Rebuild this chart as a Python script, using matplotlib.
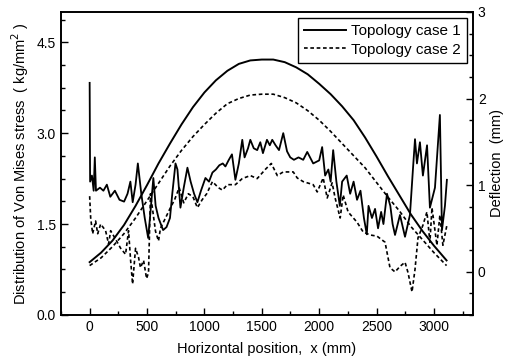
import matplotlib
matplotlib.use("Agg")
import matplotlib.pyplot as plt
from matplotlib.ticker import MultipleLocator, AutoMinorLocator

plt.rcParams['font.family'] = ['Liberation Sans', 'DejaVu Sans']
plt.rcParams['font.size'] = 10

# Von Mises stress, case 1 (solid)
x_s1 = [0, 4, 20, 35, 45, 55, 90, 120, 150, 180, 220, 260, 300, 330, 355, 375,
        400, 420, 450, 480, 510, 530, 555, 575, 600, 640, 670, 700, 720, 748,
        765, 791, 820, 852, 880, 910, 939, 970, 1009, 1040, 1070, 1100, 1130,
        1160, 1183, 1210, 1240, 1270, 1300, 1330, 1350, 1380, 1400, 1430, 1460,
        1487, 1510, 1545, 1570, 1591, 1620, 1650, 1687, 1720, 1748, 1780, 1820,
        1861, 1896, 1948, 2000, 2026, 2052, 2080, 2100, 2122, 2150, 2180, 2200,
        2240, 2270, 2300, 2330, 2360, 2390, 2415, 2430, 2460, 2487, 2513, 2540,
        2560, 2591, 2620, 2640, 2661, 2704, 2748, 2791, 2817, 2835, 2852, 2878,
        2904, 2940, 2965, 3009, 3052, 3070, 3096, 3113]
s1 = [3.83, 2.2, 2.3, 2.05, 2.6, 2.05, 2.1, 2.05, 2.15, 1.95, 2.05, 1.9, 1.87,
      2.0, 2.2, 1.86, 2.15, 2.5, 2.0, 1.6, 1.27, 1.7, 2.26, 1.8, 1.6, 1.4, 1.45,
      1.6, 2.0, 2.5, 2.4, 1.77, 2.1, 2.43, 2.2, 2.0, 1.86, 2.05, 2.26, 2.2, 2.35,
      2.4, 2.47, 2.5, 2.45, 2.55, 2.65, 2.23, 2.5, 2.89, 2.6, 2.75, 2.89, 2.75,
      2.72, 2.85, 2.67, 2.89, 2.8, 2.89, 2.8, 2.72, 3.0, 2.7, 2.6, 2.56, 2.6,
      2.56, 2.69, 2.5, 2.55, 2.77, 2.3, 2.4, 2.2, 2.72, 2.2, 1.8, 2.2, 2.3, 2.0,
      2.2, 1.9, 2.05, 1.6, 1.33, 1.8, 1.6, 1.75, 1.43, 1.7, 1.5, 2.0, 1.8, 1.5,
      1.32, 1.65, 1.29, 1.65, 2.4, 2.9, 2.5, 2.85, 2.3, 2.8, 1.77, 2.1, 3.3,
      1.4, 1.8, 2.23]

# Von Mises stress, case 2 (dashed)
x_s2 = [0, 9, 26, 52, 70, 96, 139, 165, 183, 226, 270, 313, 339, 357, 374, 400,
        426, 443, 470, 496, 513, 530, 574, 600, 617, 661, 704, 740, 780, 820,
        860, 900, 939, 980, 1020, 1070, 1122, 1157, 1200, 1270, 1330, 1400,
        1460, 1530, 1583, 1635, 1687, 1774, 1809, 1861, 1948, 1983, 2035, 2070,
        2113, 2139, 2183, 2209, 2252, 2330, 2383, 2443, 2504, 2574, 2617, 2661,
        2704, 2748, 2774, 2809, 2835, 2861, 2904, 2939, 2965, 2983, 3026, 3052,
        3078, 3113]
s2 = [1.96, 1.6, 1.34, 1.55, 1.34, 1.5, 1.39, 1.17, 1.39, 1.25, 1.1, 1.0, 1.39,
      0.9, 0.51, 1.1, 0.95, 0.78, 0.9, 0.6, 0.7, 2.0, 1.38, 1.22, 1.43, 1.6,
      1.77, 1.9, 2.1, 1.85, 2.0, 1.95, 1.77, 1.9, 2.0, 2.2, 2.1, 2.06, 2.15,
      2.15, 2.25, 2.3, 2.25, 2.4, 2.5, 2.3, 2.36, 2.36, 2.26, 2.2, 2.15, 2.03,
      2.26, 1.93, 2.18, 1.93, 1.6, 1.98, 1.7, 1.53, 1.37, 1.32, 1.3, 1.2, 0.78,
      0.71, 0.8, 0.87, 0.7, 0.38, 0.75, 1.27, 1.48, 1.7, 1.2, 1.77, 1.15, 1.65,
      1.15, 1.48]

# Deflection (right axis)
x_d = [0, 100, 200, 300, 400, 500, 600, 700, 800, 900, 1000, 1100, 1200, 1300,
       1400, 1500, 1600, 1700, 1800, 1900, 2000, 2100, 2200, 2300, 2400, 2500,
       2600, 2700, 2800, 2900, 3000, 3110]
d1 = [0.11, 0.22, 0.36, 0.54, 0.76, 1.0, 1.25, 1.48, 1.7, 1.9, 2.07, 2.21, 2.32,
      2.4, 2.44, 2.45, 2.45, 2.42, 2.36, 2.28, 2.17, 2.05, 1.91, 1.75, 1.55,
      1.33, 1.1, 0.88, 0.66, 0.47, 0.3, 0.13]
d2 = [0.07, 0.16, 0.29, 0.44, 0.62, 0.82, 1.02, 1.22, 1.4, 1.56, 1.7, 1.83, 1.94,
      2.0, 2.04, 2.05, 2.05, 2.01, 1.95, 1.86, 1.75, 1.62, 1.48, 1.34, 1.2,
      1.03, 0.86, 0.7, 0.52, 0.37, 0.22, 0.07]

fig = plt.figure(figsize=(5.08, 3.62), dpi=100)
ax = fig.add_axes([0.120, 0.130, 0.811, 0.837])
ax2 = ax.twinx()

dash = (0, (2.2, 1.6))
ax.plot(x_s1, s1, 'k-', lw=1.3)
ax.plot(x_s2, s2, color='k', ls=dash, lw=1.2)
l1, = ax2.plot(x_d, d1, 'k-', lw=1.4)
l2, = ax2.plot(x_d, d2, color='k', ls=dash, lw=1.2)

ax.set_xlim(-250, 3340)
ax.set_ylim(0, 5)
ax2.set_ylim(-0.5, 3)

ax.xaxis.set_major_locator(MultipleLocator(500))
ax.xaxis.set_minor_locator(AutoMinorLocator(2))
ax.yaxis.set_major_locator(MultipleLocator(1.5))
ax.yaxis.set_minor_locator(AutoMinorLocator(4))
ax.yaxis.set_major_formatter(plt.FormatStrFormatter('%.1f'))
ax2.yaxis.set_major_locator(MultipleLocator(1))
ax2.yaxis.set_minor_locator(AutoMinorLocator(4))

for a in (ax, ax2):
    a.tick_params(which='major', direction='in', length=5, width=1,
                  labelsize=10)
    a.tick_params(which='minor', direction='in', length=3, width=1)
    for sp in a.spines.values():
        sp.set_linewidth(1.2)

ax.set_xlabel('Horizontal position,  x (mm)', fontsize=10.5, labelpad=6)
ax.set_ylabel('Distribution of Von Mises stress  ( kg/mm$^2$ )', fontsize=10.5)
ax2.set_ylabel('Deflection  (mm)', fontsize=10.5, labelpad=3)

leg = ax2.legend([l1, l2], ['Topology case 1', 'Topology case 2'],
                 loc='upper right', fancybox=False, edgecolor='k',
                 framealpha=1, borderaxespad=0.4, handlelength=2.8,
                 handletextpad=0.3, borderpad=0.4, labelspacing=0.3,
                 fontsize=11)
leg.get_frame().set_linewidth(1.0)

fig.savefig('out.png', dpi=100)
